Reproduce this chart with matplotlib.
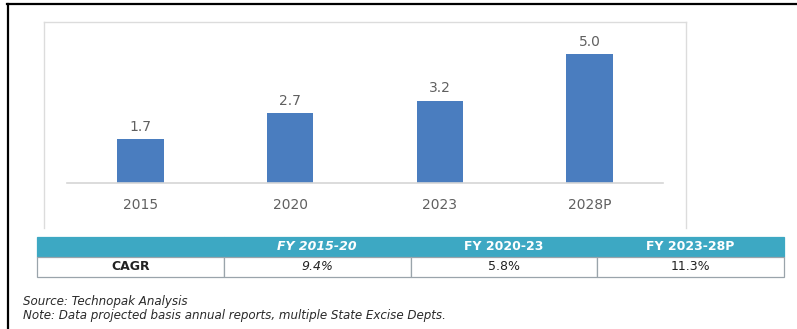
import matplotlib
matplotlib.use("Agg")
import matplotlib.pyplot as plt
from matplotlib.lines import Line2D

# Data
years = ["2015", "2020", "2023", "2028P"]
values = [1.7, 2.7, 3.2, 5.0]
periods = ["FY 2015-20", "FY 2020-23", "FY 2023-28P"]
cagr = ["9.4%", "5.8%", "11.3%"]
row_label = "CAGR"
source_note = "Source: Technopak Analysis"
data_note = "Note: Data projected basis annual reports, multiple State Excise Depts."

W, H = 797, 329
DPI = 100
fig = plt.figure(figsize=(W / DPI, H / DPI), dpi=DPI)
fig.patch.set_facecolor("white")


def px_box(x0, y0, x1, y1):
    """Pixel box (top-left origin) -> figure-fraction [left, bottom, width, height]."""
    return [x0 / W, 1 - y1 / H, (x1 - x0) / W, (y1 - y0) / H]


def px_line(xs, ys, **kw):
    fig.add_artist(Line2D([x / W for x in xs], [1 - y / H for y in ys],
                          transform=fig.transFigure, **kw))


# Outer black frame (top and left edges)
px_line([7, 797], [4, 4], color="black", lw=1.6)
px_line([8, 8], [4, 329], color="black", lw=1.6)

# Light grey chart-area frame
frame_c = "#dcdcdc"
px_line([44, 44], [22, 228], color=frame_c, lw=1.0)
px_line([44, 686], [22, 22], color=frame_c, lw=1.0)
px_line([686, 686], [22, 228], color=frame_c, lw=1.0)

# Bar chart
ax = fig.add_axes(px_box(67, 22, 663, 183))
x = range(len(years))
bars = ax.bar(x, values, width=0.31, color="#4a7dbf", zorder=2)
ax.set_xlim(-0.49, 3.49)
ax.set_ylim(0, 6.25)
for spine in ["top", "right", "left"]:
    ax.spines[spine].set_visible(False)
ax.spines["bottom"].set_color("#d6d6d6")
ax.spines["bottom"].set_linewidth(1.2)
ax.set_yticks([])
ax.set_xticks(list(x))
ax.set_xticklabels(years, fontsize=10, color="#606060")
ax.tick_params(axis="x", length=0, pad=11)
ax.patch.set_alpha(0)
for b, v in zip(bars, values):
    ax.annotate(f"{v:.1f}", (b.get_x() + b.get_width() / 2, v),
                xytext=(0, 4), textcoords="offset points",
                ha="center", va="bottom", fontsize=10, color="#606060")

# CAGR table
tax = fig.add_axes(px_box(37, 237, 784, 277))
tax.axis("off")
table = tax.table(cellText=[[row_label] + cagr],
                  colLabels=[""] + periods,
                  cellLoc="center", bbox=[0, 0, 1, 1])
table.auto_set_font_size(False)
teal = "#3da8c3"
for (r, c), cell in table.get_celld().items():
    cell.set_linewidth(0.9)
    txt = cell.get_text()
    txt.set_fontsize(9)
    if r == 0:
        cell.set_facecolor(teal)
        cell.set_edgecolor(teal)
        txt.set_color("white")
        txt.set_fontweight("bold")
        if c == 1:
            txt.set_fontstyle("italic")
    else:
        cell.set_facecolor("white")
        cell.set_edgecolor("#9aa4ab")
        txt.set_color("#222222")
        if c == 0:
            txt.set_fontweight("bold")
        if c == 1:
            txt.set_fontstyle("italic")

# Footnotes
fig.text(23 / W, 1 - 302 / H, source_note, fontsize=8.6, style="italic",
         color="#2a2a2a", va="center", ha="left")
fig.text(23 / W, 1 - 316 / H, data_note, fontsize=8.6, style="italic",
         color="#2a2a2a", va="center", ha="left")

fig.savefig("out.png", dpi=DPI, facecolor="white")
